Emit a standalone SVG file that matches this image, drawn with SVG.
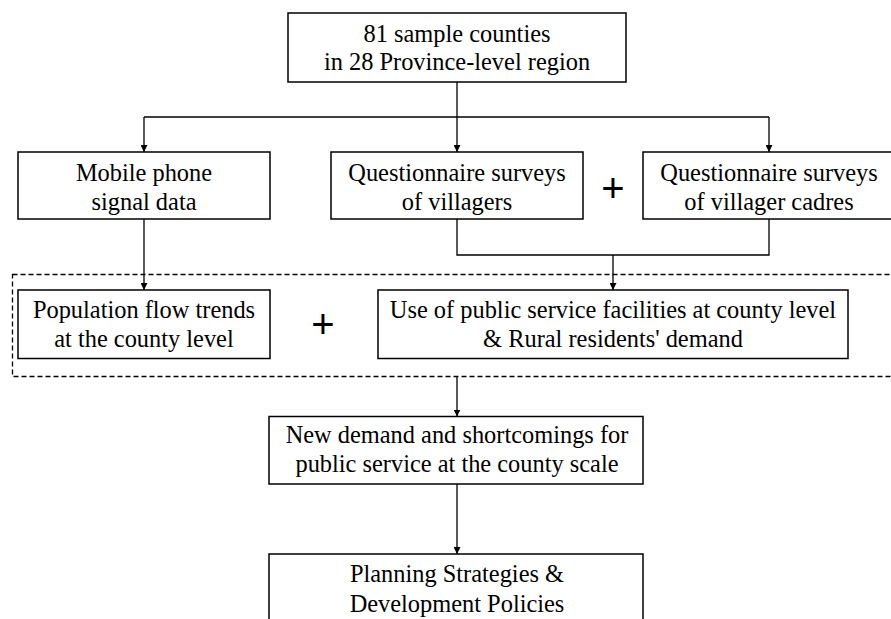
<svg xmlns="http://www.w3.org/2000/svg" width="891" height="619" viewBox="0 0 891 619">
  <defs>
    <style>
      .box { fill: #ffffff; stroke: #000000; stroke-width: 1.5; }
      .lbl { font-family: "Liberation Serif", "Times New Roman", serif; font-size: 24.4px; fill: #000000; text-anchor: middle; }
      .plus { font-family: "Liberation Sans", Arial, sans-serif; font-size: 40px; fill: #000000; text-anchor: middle; }
      .conn { fill: none; stroke: #000000; stroke-width: 1.3; }
      .dash { fill: none; stroke: #000000; stroke-width: 1.3; stroke-dasharray: 5 3; }
    </style>
    <marker id="arrow" markerUnits="userSpaceOnUse" markerWidth="8" markerHeight="7" refX="7" refY="3.5" orient="auto">
      <path d="M0,0 L7,3.5 L0,7 Z" fill="#000000"/>
    </marker>
  </defs>
  <rect width="891" height="619" fill="#ffffff"/>

  <g id="group-dashed">
    <rect class="dash" x="12.5" y="274.5" width="900" height="102"/>
  </g>

  <g id="connectors">
    <path class="conn" d="M457,82 V152" marker-end="url(#arrow)"/>
    <path class="conn" d="M144,117 H769"/>
    <path class="conn" d="M144,117 V152" marker-end="url(#arrow)"/>
    <path class="conn" d="M769,117 V152" marker-end="url(#arrow)"/>
    <path class="conn" d="M144,219 V290" marker-end="url(#arrow)"/>
    <path class="conn" d="M457,219 V255 H769 V219"/>
    <path class="conn" d="M613,255 V290" marker-end="url(#arrow)"/>
    <path class="conn" d="M457,376.5 V416.5" marker-end="url(#arrow)"/>
    <path class="conn" d="M457,484 V554" marker-end="url(#arrow)"/>
  </g>

  <g id="node-counties">
    <rect class="box" x="288" y="13" width="338" height="69"/>
    <text class="lbl" x="457" y="41.5" font-family="Liberation Serif, serif">81 sample counties</text>
    <text class="lbl" x="457" y="70" font-family="Liberation Serif, serif">in 28 Province-level region</text>
  </g>

  <g id="node-mobile">
    <rect class="box" x="18" y="152" width="252" height="67"/>
    <text class="lbl" x="144" y="181">Mobile phone</text>
    <text class="lbl" x="144" y="209.5">signal data</text>
  </g>

  <g id="node-villagers">
    <rect class="box" x="331" y="152" width="252" height="67"/>
    <text class="lbl" x="457" y="181">Questionnaire surveys</text>
    <text class="lbl" x="457" y="209.5">of villagers</text>
  </g>

  <g id="plus-1">
    <text class="plus" x="613" y="202">+</text>
  </g>

  <g id="node-cadres">
    <rect class="box" x="643" y="152" width="252" height="67"/>
    <text class="lbl" x="769" y="181">Questionnaire surveys</text>
    <text class="lbl" x="769" y="209.5">of villager cadres</text>
  </g>

  <g id="node-population">
    <rect class="box" x="18" y="290" width="252" height="68.5"/>
    <text class="lbl" x="144" y="318">Population flow trends</text>
    <text class="lbl" x="144" y="347">at the county level</text>
  </g>

  <g id="plus-2">
    <text class="plus" x="323" y="338">+</text>
  </g>

  <g id="node-use">
    <rect class="box" x="378" y="290" width="470" height="68.5"/>
    <text class="lbl" x="613" y="318">Use of public service facilities at county level</text>
    <text class="lbl" x="613" y="347">&amp; Rural residents' demand</text>
  </g>

  <g id="node-demand">
    <rect class="box" x="269" y="416.5" width="374" height="67.5"/>
    <text class="lbl" x="457" y="443">New demand and shortcomings for</text>
    <text class="lbl" x="457" y="472">public service at the county scale</text>
  </g>

  <g id="node-planning">
    <rect class="box" x="269" y="554" width="374" height="80"/>
    <text class="lbl" x="457" y="582">Planning Strategies &amp;</text>
    <text class="lbl" x="457" y="611.5">Development Policies</text>
  </g>
</svg>
